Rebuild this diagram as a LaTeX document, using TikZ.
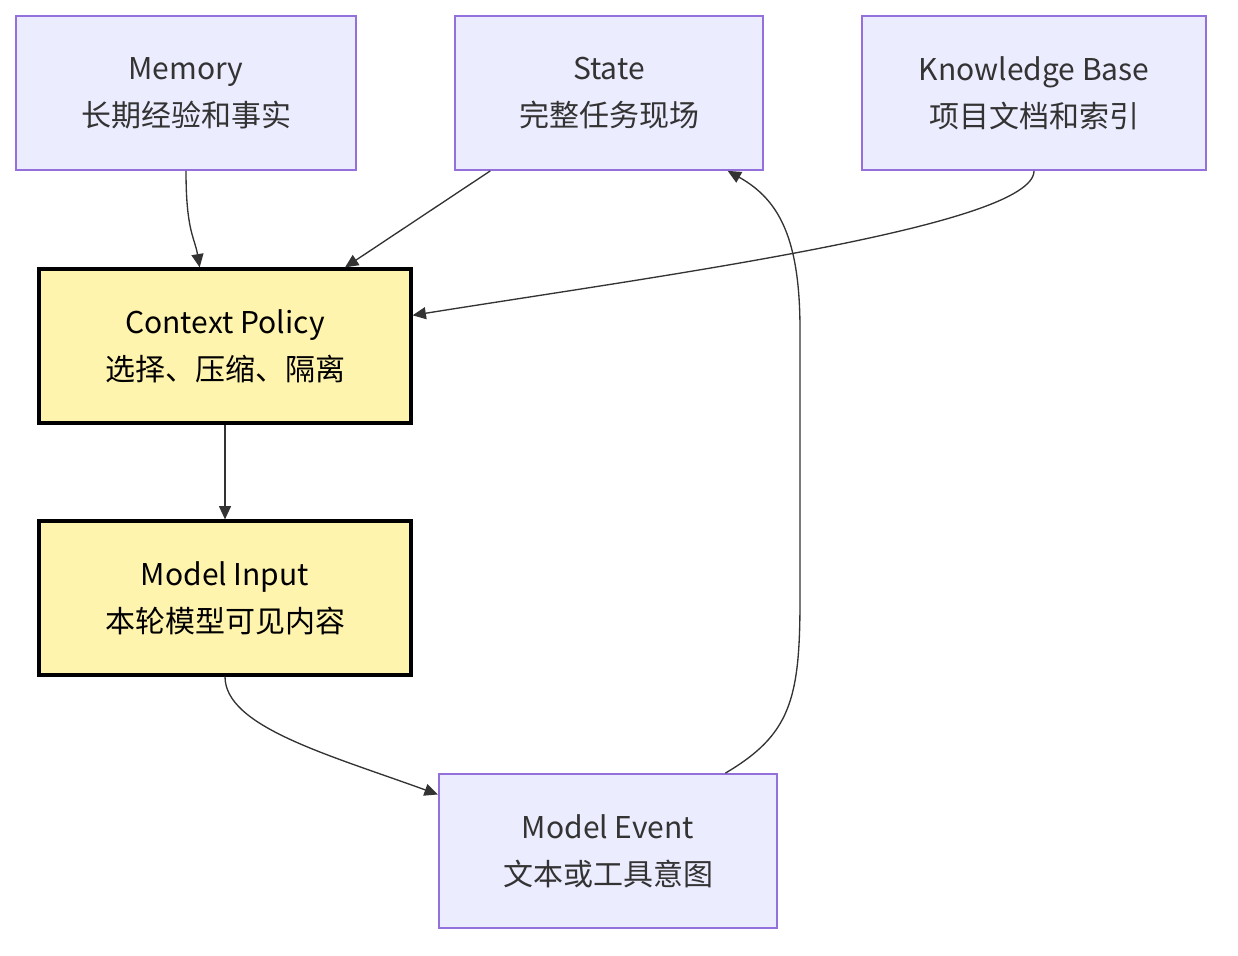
\documentclass[tikz,border=0pt]{standalone}
\usepackage{fontspec}
\setmainfont{Noto Sans CJK SC}
\usetikzlibrary{arrows.meta}
\definecolor{lav}{HTML}{ECECFF}
\definecolor{lavb}{HTML}{9370DB}
\definecolor{yel}{HTML}{FFF4AD}
\definecolor{ink}{HTML}{333333}
\tikzset{
  box/.style={draw=lavb, fill=lav, line width=1.3pt, minimum height=115.5pt, align=center, inner sep=0pt, text=ink, font=\fontsize{22.5}{35}\selectfont},
  ybox/.style={box, draw=black, fill=yel, line width=2.4pt, text=black},
  arr/.style={draw=ink, line width=1pt, -{Triangle[length=10pt,width=9pt]}}
}
\begin{document}
\begin{tikzpicture}[x=0.75pt,y=-0.75pt]
\useasboundingbox (0,0) rectangle (1238,956);
\node[box, minimum width=255pt] (mem) at (186,93) {Memory\\长期经验和事实};
\node[box, minimum width=231pt] (st) at (609,93) {State\\完整任务现场};
\node[box, minimum width=258pt] (kb) at (1034,93) {Knowledge Base\\项目文档和索引};
\node[ybox, minimum width=279pt] (cp) at (225,346) {Context Policy\\选择、压缩、隔离};
\node[ybox, minimum width=279pt] (mi) at (225,598) {Model Input\\本轮模型可见内容};
\node[box, minimum width=254pt] (me) at (608,851) {Model Event\\文本或工具意图};
\draw[arr] (mem.south) .. controls ++(0,60) and ++(-5,-30) .. ([xshift=-19pt]cp.north);
\draw[arr] ([xshift=-89pt]st.south) -- ([xshift=90pt]cp.north);
\draw[arr] (kb.south) .. controls ++(0,55) and ++(250,-40) .. ([yshift=23pt]cp.east);
\draw[arr] (cp.south) -- (mi.north);
\draw[arr] (mi.south) .. controls ++(0,50) and ++(-110,-40) .. ([yshift=-16pt]me.north west);
\draw[arr] ([xshift=88pt]me.north) .. controls (790,735) and (800,700) .. (800,600) -- (800,330) .. controls (800,240) and (780,200) .. ([xshift=89pt]st.south);
\end{tikzpicture}
\end{document}
